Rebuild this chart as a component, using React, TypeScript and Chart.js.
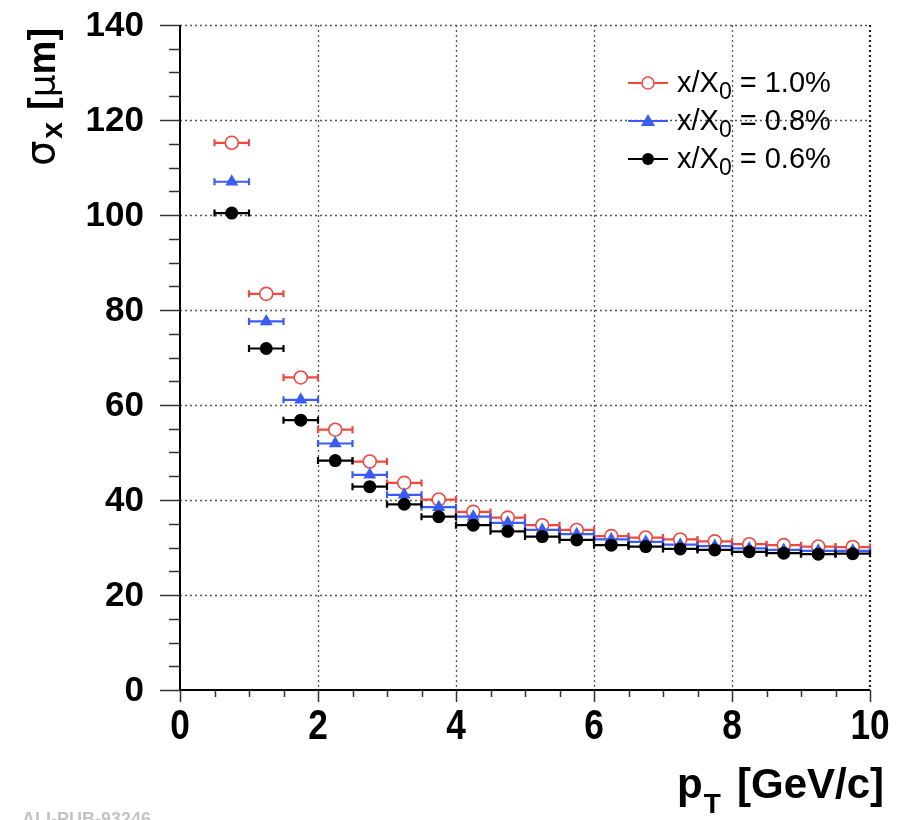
import React, { useEffect, useRef } from "react";
import { Chart, registerables } from "chart.js";

Chart.register(...registerables);

// ---- data ----
const PT_CENTERS = [0.75, 1.25, 1.75, 2.25, 2.75, 3.25, 3.75, 4.25, 4.75, 5.25, 5.75, 6.25, 6.75, 7.25, 7.75, 8.25, 8.75, 9.25, 9.75];
const BIN_HALF_WIDTH = 0.25;
const SIGMA_10 = [115.2, 83.4, 65.8, 54.8, 48.1, 43.6, 40.1, 37.5, 36.3, 34.7, 33.7, 32.4, 32.1, 31.7, 31.3, 30.7, 30.5, 30.2, 30.1];
const SIGMA_08 = [107.0, 77.6, 61.1, 51.9, 45.3, 41.1, 38.5, 36.5, 35.2, 33.7, 32.8, 31.7, 31.2, 30.6, 30.3, 29.8, 29.5, 29.3, 29.3];
const SIGMA_06 = [100.4, 71.9, 56.8, 48.3, 42.8, 39.1, 36.5, 34.7, 33.4, 32.3, 31.6, 30.5, 30.2, 29.7, 29.5, 29.1, 28.8, 28.6, 28.7];
const SERIES_LABELS = ["1.0%", "0.8%", "0.6%"];
const X_TICK_LABELS = ["0", "2", "4", "6", "8", "10"];
const Y_TICK_LABELS = ["0", "20", "40", "60", "80", "100", "120", "140"];
const X_MIN = 0, X_MAX = 10, X_MAJOR = 2, X_MINOR = 0.5;
const Y_MIN = 0, Y_MAX = 140, Y_MAJOR = 20, Y_MINOR = 5;

const RED = "#ec4a3f";
const BLUE = "#3a5cf5";
const BLACK = "#000000";
const SANS = '"Liberation Sans", Arial, sans-serif';

const toPoints = (ys: number[]) => PT_CENTERS.map((x, i) => ({ x, y: ys[i] }));

const rootPlugin = {
  id: "rootStyle",
  beforeDatasetsDraw(chart: any) {
    const { ctx, chartArea: a, scales } = chart;
    const xs = scales.x, ys = scales.y;
    ctx.save();
    // dotted grid
    ctx.strokeStyle = "#555";
    ctx.lineWidth = 1.3;
    ctx.setLineDash([2, 3]);
    for (let v = X_MIN + X_MAJOR; v < X_MAX; v += X_MAJOR) {
      const px = Math.round(xs.getPixelForValue(v)) + 0.5;
      ctx.beginPath(); ctx.moveTo(px, a.top); ctx.lineTo(px, a.bottom); ctx.stroke();
    }
    for (let v = Y_MIN + Y_MAJOR; v <= Y_MAX; v += Y_MAJOR) {
      const py = Math.round(ys.getPixelForValue(v)) + 0.5;
      ctx.beginPath(); ctx.moveTo(a.left, py); ctx.lineTo(a.right, py); ctx.stroke();
    }
    // right frame
    ctx.strokeStyle = "#222";
    ctx.lineWidth = 2.2;
    ctx.beginPath(); ctx.moveTo(a.right, a.top); ctx.lineTo(a.right, a.bottom); ctx.stroke();
    ctx.setLineDash([]);
    // axes
    ctx.strokeStyle = "#000";
    ctx.lineWidth = 2;
    ctx.beginPath(); ctx.moveTo(a.left, a.top); ctx.lineTo(a.left, a.bottom); ctx.lineTo(a.right, a.bottom); ctx.stroke();
    // ticks
    ctx.lineWidth = 1.5;
    ctx.strokeStyle = "#333";
    for (let v = X_MIN; v <= X_MAX + 1e-9; v += X_MINOR) {
      const major = Math.abs(v / X_MAJOR - Math.round(v / X_MAJOR)) < 1e-6;
      const px = Math.round(xs.getPixelForValue(v)) + 0.5;
      ctx.beginPath(); ctx.moveTo(px, a.bottom); ctx.lineTo(px, a.bottom + (major ? 12 : 7)); ctx.stroke();
    }
    for (let v = Y_MIN; v <= Y_MAX + 1e-9; v += Y_MINOR) {
      const major = Math.abs(v / Y_MAJOR - Math.round(v / Y_MAJOR)) < 1e-6;
      const py = Math.round(ys.getPixelForValue(v)) + 0.5;
      ctx.beginPath(); ctx.moveTo(a.left, py); ctx.lineTo(a.left - (major ? 20 : 11), py); ctx.stroke();
    }
    ctx.restore();
  },
  beforeDatasetDraw(chart: any, args: any) {
    const { ctx, scales } = chart;
    const ds = chart.data.datasets[args.index];
    const xs = scales.x, ys = scales.y;
    ctx.save();
    ctx.strokeStyle = ds.borderColor;
    ctx.lineWidth = 2.2;
    for (const p of ds.data) {
      const x1 = xs.getPixelForValue(p.x - BIN_HALF_WIDTH);
      const x2 = xs.getPixelForValue(p.x + BIN_HALF_WIDTH);
      const py = ys.getPixelForValue(p.y);
      ctx.beginPath(); ctx.moveTo(x1, py); ctx.lineTo(x2, py); ctx.stroke();
      ctx.beginPath();
      ctx.moveTo(x1, py - 3.5); ctx.lineTo(x1, py + 3.5);
      ctx.moveTo(x2, py - 3.5); ctx.lineTo(x2, py + 3.5);
      ctx.stroke();
    }
    ctx.restore();
  },
  afterDraw(chart: any) {
    const { ctx, chartArea: a, scales } = chart;
    const xs = scales.x, ys = scales.y;
    const bold = (s: number) => `bold ${s}px ${SANS}`;
    ctx.save();
    ctx.fillStyle = "#000";

    // y tick labels
    ctx.font = bold(35);
    ctx.textAlign = "right";
    ctx.textBaseline = "middle";
    Y_TICK_LABELS.forEach((t) => {
      ctx.fillText(t, a.left - 36, ys.getPixelForValue(Number(t)) + 1);
    });
    // x tick labels (slightly condensed)
    ctx.font = bold(42);
    ctx.textAlign = "center";
    X_TICK_LABELS.forEach((t) => {
      const px = xs.getPixelForValue(Number(t));
      ctx.save();
      ctx.translate(px, a.bottom + 37);
      ctx.scale(0.84, 1);
      ctx.fillText(t, 0, 0);
      ctx.restore();
    });

    // x-axis title p_T [GeV/c]
    ctx.textBaseline = "alphabetic";
    ctx.textAlign = "left";
    let x = 677;
    const yb = 798;
    ctx.font = bold(42);
    ctx.fillText("p", x, yb);
    x += ctx.measureText("p").width + 1;
    ctx.font = bold(28);
    ctx.fillText("T", x, yb + 15);
    ctx.font = bold(42);
    ctx.fillText("[GeV/c]", 737, yb);

    // y-axis title sigma_x [um], rotated
    ctx.save();
    ctx.translate(55, 0);
    ctx.rotate(-Math.PI / 2);
    let t = -166;
    ctx.font = `40px "DejaVu Sans", sans-serif`;
    ctx.fillText("σ", t, -1);
    t += ctx.measureText("σ").width + 2;
    ctx.font = bold(30);
    ctx.fillText("x", t, 7);
    t += ctx.measureText("x").width + 12;
    ctx.font = bold(38);
    ctx.fillText("[", t, 0);
    t += ctx.measureText("[").width;
    ctx.font = `36px "DejaVu Sans", sans-serif`;
    ctx.fillText("μ", t, 0);
    t += ctx.measureText("μ").width;
    ctx.font = bold(38);
    ctx.fillText("m]", t, 0);
    ctx.restore();

    // legend
    const rows = [
      { label: SERIES_LABELS[0], color: RED, style: "open" },
      { label: SERIES_LABELS[1], color: BLUE, style: "tri" },
      { label: SERIES_LABELS[2], color: BLACK, style: "dot" },
    ];
    rows.forEach((r, i) => {
      const ly = 83 + i * 38;
      ctx.strokeStyle = r.color;
      ctx.lineWidth = 2.2;
      ctx.beginPath(); ctx.moveTo(628, ly); ctx.lineTo(668, ly); ctx.stroke();
      ctx.lineWidth = 1.5;
      if (r.style === "open") {
        ctx.fillStyle = "#fff";
        ctx.beginPath(); ctx.arc(648, ly, 6, 0, Math.PI * 2); ctx.fill(); ctx.stroke();
      } else if (r.style === "tri") {
        ctx.fillStyle = r.color;
        ctx.beginPath(); ctx.moveTo(648, ly - 7); ctx.lineTo(655, ly + 5); ctx.lineTo(641, ly + 5); ctx.closePath(); ctx.fill();
      } else {
        ctx.fillStyle = r.color;
        ctx.beginPath(); ctx.arc(648, ly, 6, 0, Math.PI * 2); ctx.fill();
      }
      ctx.fillStyle = "#000";
      let lx = 677;
      const base = ly + 9;
      ctx.font = `29px ${SANS}`;
      ctx.fillText("x/X", lx, base);
      lx += ctx.measureText("x/X").width;
      ctx.font = `23px ${SANS}`;
      ctx.fillText("0", lx, base + 7);
      lx += ctx.measureText("0").width;
      ctx.font = `29px ${SANS}`;
      ctx.fillText(" = " + r.label, lx, base);
    });

    // watermark
    ctx.fillStyle = "#c4c4c4";
    ctx.font = bold(18);
    ctx.textBaseline = "top";
    ctx.fillText("ALI-PUB-93246", 22, 811);
    ctx.restore();
  },
};

export default function App() {
  const ref = useRef<HTMLCanvasElement | null>(null);
  useEffect(() => {
    document.body.style.margin = "0";
    const canvas = ref.current!;
    const chart = new Chart(canvas, {
      type: "scatter",
      data: {
        datasets: [
          {
            label: SERIES_LABELS[0], data: toPoints(SIGMA_10), order: 2,
            borderColor: RED, backgroundColor: "#ffffff", pointStyle: "circle",
            pointRadius: 6.5, pointBorderWidth: 1.6, showLine: false,
          },
          {
            label: SERIES_LABELS[1], data: toPoints(SIGMA_08), order: 1,
            borderColor: BLUE, backgroundColor: BLUE, pointStyle: "triangle",
            pointRadius: 7.5, pointBorderWidth: 0, showLine: false,
          },
          {
            label: SERIES_LABELS[2], data: toPoints(SIGMA_06), order: 0,
            borderColor: BLACK, backgroundColor: BLACK, pointStyle: "circle",
            pointRadius: 6.5, pointBorderWidth: 0, showLine: false,
          },
        ] as any,
      },
      options: {
        animation: false,
        responsive: false,
        events: [],
        layout: { padding: { top: 25, right: 34, left: 0, bottom: 0 } },
        plugins: { legend: { display: false }, tooltip: { enabled: false } },
        scales: {
          x: {
            type: "linear", min: X_MIN, max: X_MAX,
            grid: { display: false, drawTicks: false },
            border: { display: false },
            ticks: { display: false, stepSize: X_MAJOR },
            afterFit: (s: any) => { s.height = 130; },
          },
          y: {
            type: "linear", min: Y_MIN, max: Y_MAX,
            grid: { display: false, drawTicks: false },
            border: { display: false },
            ticks: { display: false, stepSize: Y_MAJOR },
            afterFit: (s: any) => { s.width = 180; },
          },
        },
      } as any,
      plugins: [rootPlugin],
    });
    return () => chart.destroy();
  }, []);
  return (
    <div style={{ width: 904, height: 820, background: "#fff" }}>
      <canvas ref={ref} width={904} height={820} style={{ display: "block" }} />
    </div>
  );
}
